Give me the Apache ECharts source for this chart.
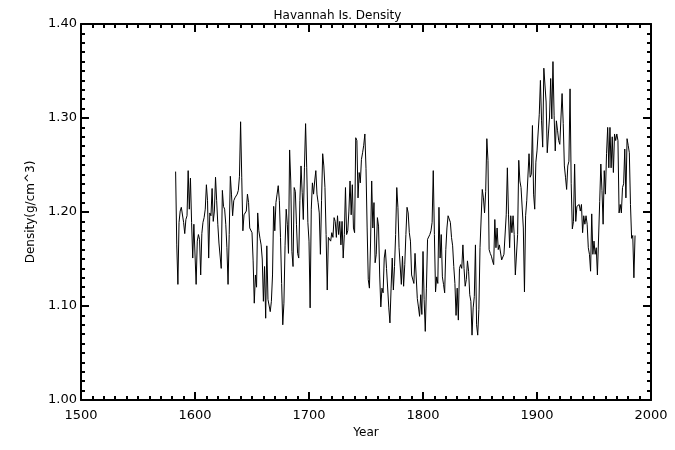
<!DOCTYPE html>
<html>
<head>
<meta charset="utf-8">
<script src="https://cdn.jsdelivr.net/npm/echarts@6/dist/echarts.min.js"></script>
<style>
html,body{margin:0;padding:0;background:#fff;}
#chart{width:675px;height:450px;}
</style>
</head>
<body>
<div id="chart"></div>
<script>
const firstYear = 1583;
// Annual density values (g/cm^3)
const density1583to1652 = [
1.243,1.165,1.123,1.189,1.201,1.205,1.207,1.189,1.177,1.192,
1.196,1.244,1.203,1.236,1.189,1.151,1.187,1.187,1.123,1.169,
1.176,1.171,1.133,1.177,1.189,1.194,1.203,1.229,1.212,1.151,
1.199,1.196,1.225,1.190,1.201,1.237,1.212,1.187,1.167,1.169,
1.140,1.223,1.206,1.203,1.187,1.162,1.123,1.176,1.238,1.219,
1.196,1.212,1.215,1.215,1.219,1.223,1.238,1.296,1.237,1.180,
1.197,1.196,1.201,1.219,1.210,1.183,1.183,1.178,1.148,1.103];
const density1653to1735 = [
1.133,1.120,1.199,1.180,1.172,1.165,1.150,1.105,1.142,1.087,
1.164,1.107,1.105,1.094,1.105,1.133,1.206,1.180,1.210,1.219,
1.228,1.212,1.173,1.124,1.080,1.103,1.164,1.203,1.187,1.156,
1.266,1.233,1.158,1.142,1.226,1.222,1.187,1.156,1.151,1.212,
1.249,1.221,1.192,1.247,1.294,1.247,1.189,1.169,1.098,1.203,
1.231,1.219,1.233,1.244,1.219,1.210,1.199,1.155,1.212,1.262,
1.249,1.226,1.176,1.117,1.173,1.174,1.169,1.178,1.173,1.194,
1.190,1.173,1.196,1.176,1.190,1.165,1.190,1.151,1.176,1.226,
1.176,1.180,1.201];
const density1736to1819 = [
1.233,1.197,1.229,1.183,1.178,1.279,1.276,1.215,1.242,1.231,
1.256,1.263,1.271,1.283,1.246,1.183,1.128,1.119,1.167,1.233,
1.183,1.210,1.146,1.155,1.194,1.185,1.133,1.099,1.119,1.114,
1.151,1.160,1.140,1.140,1.098,1.082,1.119,1.151,1.117,1.142,
1.176,1.226,1.205,1.162,1.160,1.123,1.153,1.121,1.144,1.176,
1.205,1.199,1.178,1.169,1.133,1.132,1.124,1.156,1.158,1.108,
1.099,1.089,1.112,1.091,1.158,1.107,1.073,1.119,1.171,1.173,
1.176,1.180,1.189,1.244,1.176,1.115,1.131,1.124,1.205,1.151,
1.176,1.131,1.123,1.114];
const density1820to1902 = [
1.160,1.183,1.196,1.196,1.189,1.173,1.164,1.142,1.124,1.090,
1.119,1.085,1.140,1.144,1.140,1.165,1.140,1.121,1.128,1.148,
1.137,1.112,1.105,1.069,1.098,1.110,1.165,1.080,1.069,1.096,
1.162,1.162,1.224,1.215,1.199,1.222,1.278,1.255,1.160,1.156,
1.153,1.148,1.144,1.192,1.162,1.183,1.160,1.165,1.165,1.149,
1.148,1.155,1.156,1.197,1.247,1.197,1.162,1.196,1.178,1.196,
1.176,1.133,1.131,1.176,1.255,1.233,1.226,1.226,1.183,1.115,
1.196,1.212,1.212,1.262,1.237,1.240,1.292,1.219,1.203,1.253,
1.265,1.265,1.304];
const density1903to1986 = [
1.340,1.297,1.269,1.353,1.354,1.317,1.263,1.283,1.301,1.342,
1.299,1.360,1.303,1.265,1.297,1.287,1.276,1.272,1.300,1.326,
1.294,1.249,1.237,1.224,1.249,1.254,1.331,1.230,1.182,1.190,
1.251,1.190,1.206,1.208,1.208,1.201,1.208,1.178,1.196,1.187,
1.196,1.187,1.162,1.155,1.137,1.198,1.155,1.169,1.155,1.162,
1.133,1.133,1.211,1.251,1.223,1.187,1.244,1.219,1.262,1.290,
1.247,1.290,1.247,1.280,1.242,1.283,1.276,1.283,1.276,1.199,
1.208,1.199,1.226,1.230,1.267,1.215,1.278,1.271,1.263,1.208,
1.172,1.175,1.130,1.175];

const xTicks = [1500, 1600, 1700, 1800, 1900, 2000];
const yTicks = ['1.00', '1.10', '1.20', '1.30', '1.40'];

const densityValues = [].concat(density1583to1652, density1653to1735,
  density1736to1819, density1820to1902, density1903to1986);
const seriesData = densityValues.map((v, i) => [firstYear + i, v]);

const FONT = 'DejaVu Sans';
const black = '#000';
function axisCommon(showLabels) {
  return {
    axisLine: { show: true, onZero: false, lineStyle: { color: black, width: 2 } },
    axisTick: { show: true, inside: true, length: 8, lineStyle: { color: black, width: 2 } },
    minorTick: { show: true, splitNumber: 10, length: 4, lineStyle: { color: black, width: 2 } },
    splitLine: { show: false },
    minorSplitLine: { show: false },
    axisLabel: { show: showLabels, color: black, fontSize: 13, fontFamily: FONT, fontWeight: 'normal' }
  };
}

const chart = echarts.init(document.getElementById('chart'), null, { renderer: 'canvas' });
const xBase = { type: 'value', min: xTicks[0], max: xTicks[xTicks.length - 1], interval: 100 };
const yBase = { type: 'value', min: 1.0, max: 1.4, interval: 0.1 };

const xBottom = Object.assign({}, xBase, axisCommon(true), {
  position: 'bottom', name: 'Year', nameLocation: 'middle', nameGap: 25,
  nameTextStyle: { color: black, fontSize: 12, fontFamily: FONT }
});
xBottom.axisLabel.margin = 9;
xBottom.axisLabel.formatter = function (v) {
  return xTicks.indexOf(v) >= 0 ? String(v) : '';
};
const xTop = Object.assign({}, xBase, axisCommon(false), { position: 'top' });

const yLeft = Object.assign({}, yBase, axisCommon(true), {
  position: 'left', name: 'Density(g/cm^3)', nameLocation: 'middle', nameGap: 44,
  nameTextStyle: { color: black, fontSize: 12, fontFamily: FONT }
});
yLeft.axisLabel.margin = 4;
yLeft.axisLabel.formatter = function (v) {
  const s = v.toFixed(2);
  return yTicks.indexOf(s) >= 0 ? s : '';
};
const yRight = Object.assign({}, yBase, axisCommon(false), { position: 'right' });

chart.setOption({
  animation: false,
  backgroundColor: '#fff',
  title: {
    text: 'Havannah Is. Density', left: 'center', top: 5,
    textStyle: { color: black, fontSize: 12, fontWeight: 'normal', fontFamily: FONT }
  },
  grid: { left: 81, right: 24, top: 24, bottom: 50, containLabel: false },
  xAxis: [xBottom, xTop],
  yAxis: [yLeft, yRight],
  series: [{
    type: 'line',
    xAxisIndex: 0, yAxisIndex: 0,
    data: seriesData,
    showSymbol: false,
    symbol: 'none',
    lineStyle: { color: black, width: 1 },
    z: 1
  }]
});
</script>
</body>
</html>
